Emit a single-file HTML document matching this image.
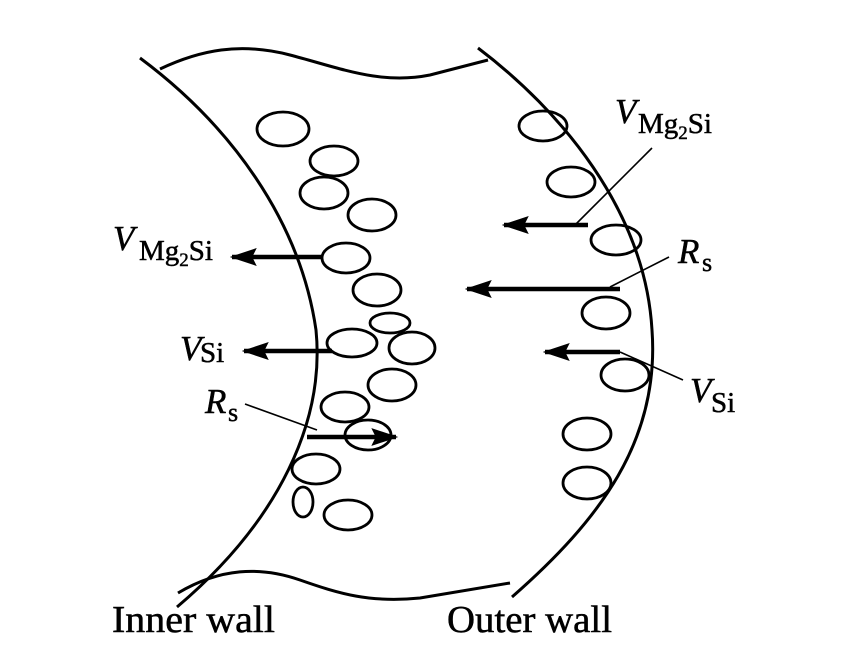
<!DOCTYPE html>
<html><head><meta charset="utf-8"><style>
html,body{margin:0;padding:0;background:#fff}
svg{display:block}
text{font-family:"Liberation Serif",serif;fill:#000;stroke:#000;stroke-width:0.5}
</style></head><body>
<svg width="844" height="655" viewBox="0 0 844 655" xmlns="http://www.w3.org/2000/svg">
<defs>
<marker id="ah" markerWidth="6" markerHeight="4" refX="5.5" refY="2" orient="auto" markerUnits="strokeWidth">
<path d="M0,0 L6,2 L0,4 L1,2 Z" fill="#000"/></marker>
</defs>
<g fill="none" stroke="#000" stroke-width="3">
<path d="M140,58 C 230,125 300,220 316,330 C 325,420 280,520 177,607"/>
<path d="M160,69 C 200,50 240,42 290,55 C 340,68 380,85 430,75 L488,60"/>
<path d="M478,48 C 560,110 645,210 652,330 C 660,440 600,520 512,597"/>
<path d="M178,593 C 220,568 260,566 300,580 C 340,594 370,603 420,598 L510,583"/>
</g>
<g fill="none" stroke="#000" stroke-width="2.8">
<ellipse cx="283" cy="129" rx="26" ry="17"/>
<ellipse cx="334" cy="161" rx="24" ry="15"/>
<ellipse cx="324" cy="193" rx="24" ry="16"/>
<ellipse cx="372" cy="215" rx="24" ry="16"/>
<ellipse cx="346" cy="258" rx="24" ry="15"/>
<ellipse cx="377" cy="290" rx="24" ry="16"/>
<ellipse cx="390" cy="323" rx="20" ry="10"/>
<ellipse cx="352" cy="343" rx="25" ry="14"/>
<ellipse cx="412" cy="348" rx="23" ry="16"/>
<ellipse cx="392" cy="385" rx="24" ry="16"/>
<ellipse cx="345" cy="407" rx="24" ry="15"/>
<ellipse cx="368" cy="435" rx="23" ry="15"/>
<ellipse cx="316" cy="469" rx="24" ry="15"/>
<ellipse cx="303" cy="502" rx="10" ry="15"/>
<ellipse cx="348" cy="515" rx="24" ry="15"/>
<ellipse cx="543" cy="126" rx="24" ry="15"/>
<ellipse cx="571" cy="182" rx="24" ry="15"/>
<ellipse cx="616" cy="240" rx="25" ry="15"/>
<ellipse cx="606" cy="313" rx="24" ry="16"/>
<ellipse cx="625" cy="375" rx="24" ry="16"/>
<ellipse cx="587" cy="434" rx="24" ry="16"/>
<ellipse cx="587" cy="483" rx="24" ry="16"/>
</g>
<g stroke="#000" stroke-width="1.6">
<line x1="245" y1="404" x2="317" y2="430"/>
<line x1="575" y1="225" x2="652" y2="148"/>
<line x1="610" y1="287" x2="669" y2="257"/>
<line x1="620" y1="352" x2="683" y2="380"/>
</g>
<g stroke="#000" stroke-width="4.5" marker-end="url(#ah)">
<line x1="322" y1="257" x2="232" y2="257"/>
<line x1="332" y1="351" x2="244" y2="351"/>
<line x1="307" y1="437" x2="396" y2="437"/>
<line x1="588" y1="225" x2="504" y2="225"/>
<line x1="620" y1="289" x2="467" y2="289"/>
<line x1="620" y1="352" x2="545" y2="352"/>
</g>
<text x="113" y="250" font-size="35" font-style="italic">V</text>
<text x="139" y="260" font-size="29">Mg<tspan font-size="19" dy="6">2</tspan><tspan dy="-6">Si</tspan></text>
<text x="180" y="360" font-size="35" font-style="italic">V</text>
<text x="200" y="362" font-size="29">Si</text>
<text x="205" y="413" font-size="35" font-style="italic">R</text>
<text x="228" y="421" font-size="26">s</text>
<text x="615" y="123" font-size="35" font-style="italic">V</text>
<text x="638" y="133" font-size="29">Mg<tspan font-size="19" dy="6">2</tspan><tspan dy="-6">Si</tspan></text>
<text x="678" y="263" font-size="35" font-style="italic">R</text>
<text x="702" y="271" font-size="26">s</text>
<text x="690" y="402" font-size="35" font-style="italic">V</text>
<text x="711" y="412" font-size="29">Si</text>
<text x="112" y="632" font-size="38" textLength="163" lengthAdjust="spacingAndGlyphs">Inner wall</text>
<text x="447" y="632" font-size="38" textLength="165" lengthAdjust="spacingAndGlyphs">Outer wall</text>
</svg>
</body></html>
